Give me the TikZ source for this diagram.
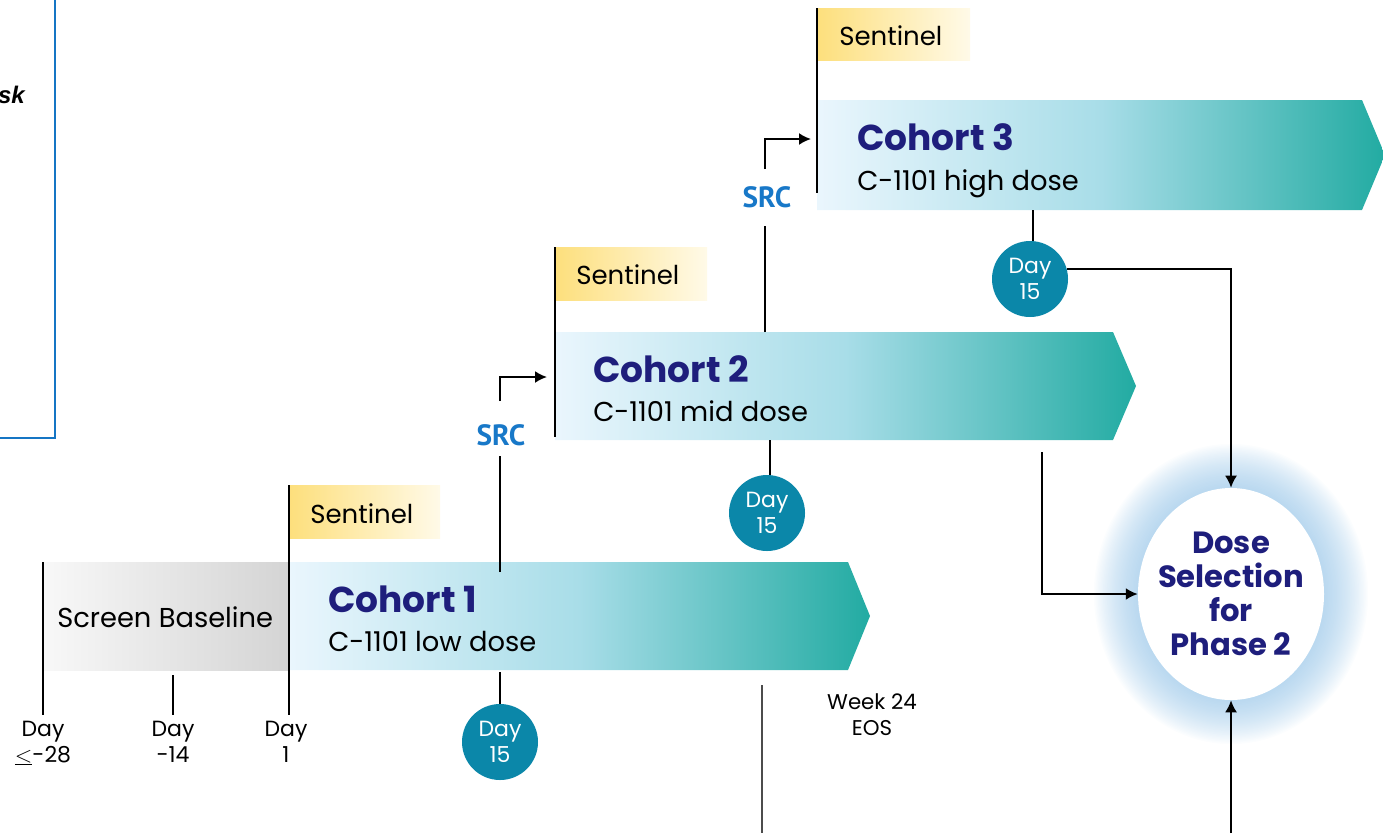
\documentclass[tikz,border=0pt]{standalone}
\usepackage{fontspec}
\setmainfont{Poppins}
\newfontfamily\srcfont{PT Sans}
\newfontfamily\arialf{Liberation Sans}
\usetikzlibrary{shapes.geometric,arrows.meta}
\definecolor{navy}{HTML}{1E1E7C}
\definecolor{srcblue}{HTML}{1878C8}
\definecolor{boxblue}{HTML}{1575C4}
\definecolor{dayblue}{HTML}{0B87A9}
\definecolor{glowblue}{HTML}{8EC0E6}
\definecolor{cA}{HTML}{EAF6FD}
\definecolor{cB}{HTML}{A8DDE8}
\definecolor{cC}{HTML}{22ABA2}
\definecolor{gA}{HTML}{F8F8F8}
\definecolor{gB}{HTML}{D4D4D4}
\definecolor{yA}{HTML}{FDDF7C}
\definecolor{yB}{HTML}{FFFAE8}
\pgfdeclarehorizontalshading{cohortshade}{100bp}{color(0bp)=(cA); color(25bp)=(cA); color(50bp)=(cB); color(75bp)=(cC); color(100bp)=(cC)}
\pgfdeclarehorizontalshading{screenshade}{100bp}{color(0bp)=(gA); color(25bp)=(gA); color(75bp)=(gB); color(100bp)=(gB)}
\pgfdeclarehorizontalshading{sentshade}{100bp}{color(0bp)=(yA); color(25bp)=(yA); color(75bp)=(yB); color(100bp)=(yB)}
\begin{document}
\begin{tikzpicture}[x=0.75pt,y=-0.75pt,
  conn/.style={line width=1.5pt,black},
  arr/.style={conn,-{Latex[length=9pt,width=9pt]}},
  tick/.style={line width=1.5pt,black},
  daycirc/.style={circle,fill=dayblue,text=white,minimum size=57pt,inner sep=0pt,align=center,font=\fontsize{16.5}{20}\selectfont},
  title/.style={anchor=base west,text=navy,font=\fontsize{27}{30}\selectfont\bfseries,inner sep=0pt},
  sub/.style={anchor=base west,font=\fontsize{20.5}{22}\selectfont,inner sep=0pt},
  senttext/.style={anchor=base west,font=\fontsize{19.5}{20}\selectfont,inner sep=0pt},
  daylab/.style={align=center,font=\fontsize{16.5}{19.5}\selectfont,inner sep=0pt,anchor=north},
  srclab/.style={text=srcblue,font=\srcfont\bfseries\fontsize{22}{24}\selectfont,inner sep=0pt}
]
\useasboundingbox (0,0) rectangle (1383,833);
% left box fragment
\draw[boxblue,line width=1.2pt] (-5,438) -- (55,438) -- (55,-5);
\node[anchor=base east,inner sep=0pt,font=\arialf\bfseries\itshape\fontsize{18}{22}\selectfont] (sk) at (25,103) {sk};

% Screen baseline
\path[shading=screenshade] (43,562) rectangle (289,670);
\node[anchor=base west,inner sep=0pt,font=\fontsize{20.5}{22}\selectfont] (screen) at (57,627) {Screen Baseline};

% Cohort bars
\path[shading=cohortshade] (289,562) -- (848,562) -- (870,616) -- (848,670) -- (289,670) -- cycle;
\path[shading=cohortshade] (555,332) -- (1113,332) -- (1136,386) -- (1113,440) -- (555,440) -- cycle;
\path[shading=cohortshade] (817,100) -- (1362,100) -- (1385,155) -- (1362,210) -- (817,210) -- cycle;

% Sentinel boxes
\path[shading=sentshade] (289,485) rectangle (440,538);
\path[shading=sentshade] (555,247) rectangle (707,300);
\path[shading=sentshade] (817,8) rectangle (970,60);
\node[senttext] (s1) at (310,523) {Sentinel};
\node[senttext] (s2) at (576,284) {Sentinel};
\node[senttext] (s3) at (839,45) {Sentinel};

% titles
\node[title] (t1) at (328,612) {Cohort 1};
\node[sub] (u1) at (328,651) {C-1101 low dose};
\node[title] (t2) at (593,382) {Cohort 2};
\node[sub] (u2) at (593,421) {C-1101 mid dose};
\node[title] (t3) at (857,150) {Cohort 3};
\node[sub] (u3) at (857,190) {C-1101 high dose};

% timeline ticks
\coordinate (a0) at (43,562); \coordinate (a1) at (43,715);
\coordinate (b0) at (173,675); \coordinate (b1) at (173,715);
\coordinate (c0) at (289,485); \coordinate (c1) at (289,715);
\draw[tick] (a0) -- (a1);
\draw[tick] (b0) -- (b1);
\draw[tick] (c0) -- (c1);
\coordinate (e0) at (555,247); \coordinate (e1) at (555,437);
\coordinate (f0) at (817,8); \coordinate (f1) at (817,193);
\draw[tick] (e0) -- (e1);
\draw[tick] (f0) -- (f1);

\node[daylab] (dA) at (43,721) {Day\\$\underline{\smash{<}}$-28};
\node[daylab] (dB) at (173,721) {Day\\-14};
\node[daylab] (dC) at (286,721) {Day\\1};

% week 24
\coordinate (w0) at (762,685); \coordinate (w1) at (762,833);
\draw[line width=1.3pt,black!70] (w0) -- (w1);
\node[daylab,font=\fontsize{16}{19.5}\selectfont] (wk) at (872,693) {Week 24\\EOS};

% Day 15 circles
\node[daycirc] (d1) at (500,742) {Day\\15};
\node[daycirc] (d2) at (767,513) {Day\\15};
\node[daycirc] (d3) at (1030,279) {Day\\15};
\coordinate (p1) at (500,672);
\coordinate (p2) at (770,440);
\coordinate (p3) at (1033,210);
\draw[conn] (p1) -- (d1.north);
\draw[conn] (p2) -- (p2 |- d2.north);
\draw[conn] (p3) -- (p3 |- d3.north);

% SRC
\node[srclab] (src1) at (501,435) {SRC};
\node[srclab] (src2) at (767,197) {SRC};
\coordinate (q1) at (500,572);
\coordinate (q2) at (765,332);
\draw[conn] (q1) -- (500,456);
\draw[conn] (q2) -- (765,226);
\coordinate (r1) at (500,401);
\coordinate (r2) at (765,169);
\coordinate (h1) at (547,377);
\coordinate (h2) at (811,139);
\draw[arr] (r1) |- (h1);
\draw[arr] (r2) |- (h2);

% Dose selection ellipse with glow
\foreach \i in {1,...,34}{
  \fill[glowblue,opacity=0.026] (1231,594) ellipse [x radius=93+\i*1.3, y radius=106+\i*1.3];
}
\node[ellipse,fill=white,minimum width=139.5pt,minimum height=159pt,inner sep=0pt] (dose) at (1231,594) {};
\node[align=center,text=navy,inner sep=0pt,font=\fontsize{23}{25.5}\selectfont\bfseries] (dosetext) at (1231,594) {Dose\\Selection\\for\\Phase 2};

% connectors to dose
\draw[arr] (d3.15) -| (dose.north);
\coordinate (m0) at (1042,452);
\draw[arr] (m0) |- (dose.west);
\coordinate (n0) at (1231,833);
\draw[arr] (n0) -- (dose.south);
\end{tikzpicture}
\end{document}
